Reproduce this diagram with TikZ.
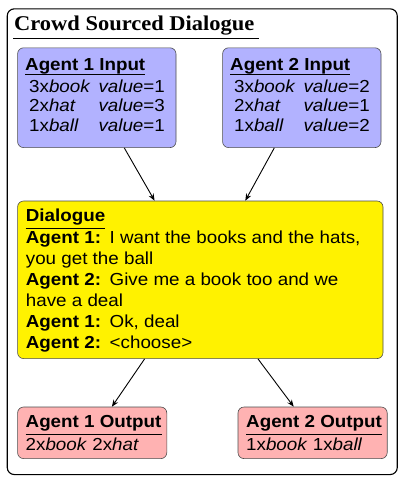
\documentclass[tikz,border=0pt]{standalone}
\usepackage{fontspec}
\setmainfont{Liberation Sans}[FakeStretch=1.08]
\newfontfamily\titlefont{Liberation Serif}[FakeStretch=1.07]
\usetikzlibrary{arrows.meta}
\newcommand{\spk}[1]{\makebox[83.8pt][l]{\textbf{#1}}}
\begin{document}
\begin{tikzpicture}[x=1pt,y=-1pt,
  box/.style={draw=black!70, line width=0.6pt, rounded corners=6pt, anchor=north west, inner sep=0pt},
  inbox/.style={box, fill=blue!30, minimum width=158.4pt, minimum height=99.8pt},
  outbox/.style={box, fill=red!30, minimum width=149.2pt, minimum height=51.6pt},
  dlgbox/.style={box, fill=yellow, minimum width=365.4pt, minimum height=157.6pt},
  txt/.style={anchor=base west, inner sep=0pt, font=\fontsize{17.4}{21}\selectfont},
  hd/.style={anchor=base west, inner sep=0pt, font=\fontsize{17.4}{21}\selectfont\bfseries},
  uline/.style={line width=0.9pt},
  arr/.style={-{Stealth[length=7pt,width=5.5pt]}, line width=0.9pt}]
\useasboundingbox (0,0) rectangle (403,480);
% outer frame
\node[draw=black, line width=1.1pt, rounded corners=7pt, anchor=north west, inner sep=0pt,
      minimum width=390pt, minimum height=465.7pt] (outer) at (6.7,8.3) {};
\node[anchor=base west, inner sep=0pt, font=\titlefont\bfseries\fontsize{21}{24}\selectfont] (title) at (14,30.7) {Crowd Sourced Dialogue};
\draw[uline] ([xshift=-0.7pt,yshift=-7.6pt]title.base west) -- ([xshift=4pt,yshift=-7.6pt]title.base east);
% boxes
\node[inbox] (in1) at (17.3,47.5) {};
\node[inbox] (in2) at (222.3,47.5) {};
\node[dlgbox] (dlg) at (17.3,200.7) {};
\node[outbox] (out1) at (17.3,406.7) {};
\node[outbox] (out2) at (237.7,406.7) {};
% agent 1 input
\node[hd] (h1) at (25,70) {Agent 1 Input};
\draw[uline] ([yshift=-4.5pt]h1.base west) -- ([yshift=-4.5pt]h1.base east);
\node[txt] (a1r1) at (29,92) {3x\textit{book}};
\node[txt] (a1v1) at (98.3,92) {\textit{value}=1};
\node[txt] (a1r2) at (29,111.5) {2x\textit{hat}};
\node[txt] (a1v2) at (98.3,111.5) {\textit{value}=3};
\node[txt] (a1r3) at (29,131) {1x\textit{ball}};
\node[txt] (a1v3) at (98.3,131) {\textit{value}=1};
% agent 2 input
\node[hd] (h2) at (230,70) {Agent 2 Input};
\draw[uline] ([yshift=-4.5pt]h2.base west) -- ([yshift=-4.5pt]h2.base east);
\node[txt] (a2r1) at (234,92) {3x\textit{book}};
\node[txt] (a2v1) at (303.3,92) {\textit{value}=2};
\node[txt] (a2r2) at (234,111.5) {2x\textit{hat}};
\node[txt] (a2v2) at (303.3,111.5) {\textit{value}=1};
\node[txt] (a2r3) at (234,131) {1x\textit{ball}};
\node[txt] (a2v3) at (303.3,131) {\textit{value}=2};
% dialogue
\node[hd] (hd) at (25.7,221.7) {Dialogue};
\draw[uline] ([yshift=-6.6pt]hd.base west) -- ([yshift=-6.6pt]hd.base east);
\node[txt] (d1) at (25.7,243.3) {\spk{Agent 1:}I want the books and the hats,};
\node[txt] (d2) at (25.7,264.3) {you get the ball};
\node[txt] (d3) at (25.7,285.3) {\spk{Agent 2:}Give me a book too and we};
\node[txt] (d4) at (25.7,306.3) {have a deal};
\node[txt] (d5) at (25.7,327.3) {\spk{Agent 1:}Ok, deal};
\node[txt] (d6) at (25.7,348.3) {\spk{Agent 2:}<choose>};
% outputs
\node[hd] (ho1) at (25.5,427.5) {Agent 1 Output};
\draw[uline] ([yshift=-6.6pt]ho1.base west) -- ([yshift=-6.6pt]ho1.base east);
\node[txt] (o1) at (25.5,450.5) {2x\textit{book} 2x\textit{hat}};
\node[hd] (ho2) at (246,427.5) {Agent 2 Output};
\draw[uline] ([yshift=-6.6pt]ho2.base west) -- ([yshift=-6.6pt]ho2.base east);
\node[txt] (o2) at (246,450.5) {1x\textit{book} 1x\textit{ball}};
% arrows
\draw[arr] ([xshift=27.5pt]in1.south) -- ([xshift=-45.7pt]dlg.north);
\draw[arr] ([xshift=-27.5pt]in2.south) -- ([xshift=45pt]dlg.north);
\draw[arr] ([xshift=-55.7pt]dlg.south) -- ([xshift=19.7pt]out1.north);
\draw[arr] ([xshift=57.7pt]dlg.south) -- ([xshift=-18.9pt]out2.north);
\end{tikzpicture}
\end{document}
